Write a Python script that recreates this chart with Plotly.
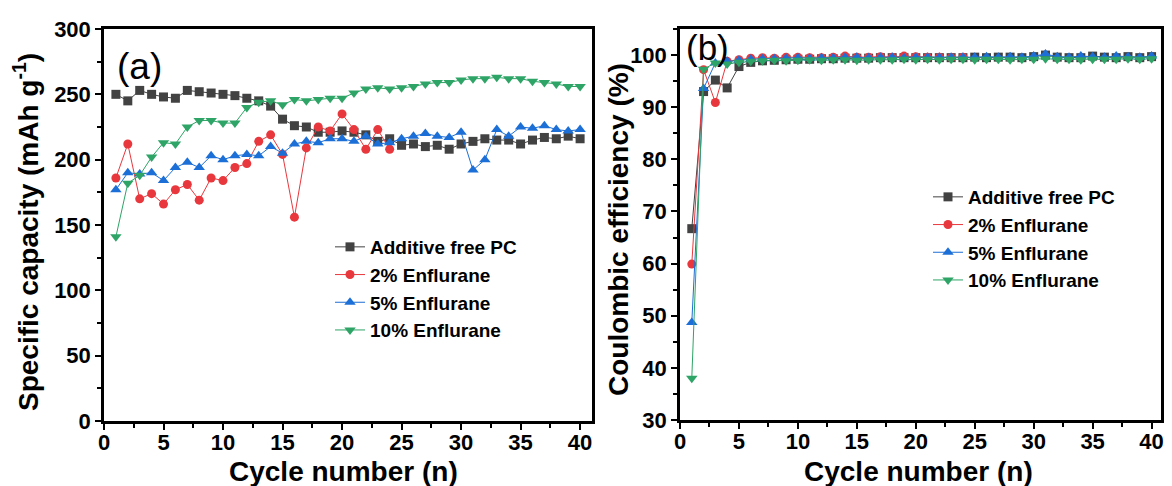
import plotly.graph_objects as go

cycles = list(range(1, 41))

# Panel (a): specific capacity (mAh g-1)
cap_pc = [250, 245, 253, 250, 248, 247, 253, 252, 251, 250, 249, 247, 245, 241, 231, 226, 225, 221, 221, 222,
          221, 219, 214, 216, 211, 212, 210, 211, 208, 212, 214, 216, 215, 215, 212, 215, 217, 216, 218, 216]
cap_2 = [186, 212, 170, 174, 166, 177, 181, 169, 186, 184, 194, 197, 214, 219, 204, 156, 209, 225, 222, 235,
         223, 208, 223, 208]
cap_5 = [177, 190, 189, 190, 184, 194, 198, 194, 203, 200, 203, 204, 203, 210, 205, 212, 214, 213, 216, 216,
         214, 218, 212, 213, 216, 218, 220, 218, 217, 221, 192, 200, 223, 218, 225, 224, 226, 223, 222, 223]
cap_10 = [141, 182, 188, 202, 213, 212, 225, 230, 230, 228, 228, 240, 244, 245, 242, 246, 245, 246, 247, 247,
          251, 254, 255, 254, 255, 256, 258, 259, 259, 261, 262, 262, 263, 262, 262, 260, 259, 258, 256, 256]

# Panel (b): coulombic efficiency (%)
ce_pc = [66.7, 93.0, 95.2, 93.7, 97.8, 98.6, 98.9, 99.0, 99.1, 99.2, 99.2, 99.3, 99.3, 99.4, 99.4, 99.4, 99.5, 99.5, 99.5, 99.5,
         99.5, 99.5, 99.5, 99.5, 99.6, 99.5, 99.6, 99.6, 99.5, 99.7, 100.0, 99.6, 99.5, 99.5, 99.8, 99.6, 99.5, 99.7, 99.5, 99.7]
ce_2 = [59.9, 97.2, 90.9, 98.8, 99.1, 99.4, 99.5, 99.4, 99.6, 99.6, 99.5, 99.5, 99.6, 99.8, 99.6, 99.6, 99.7, 99.6, 99.8, 99.7,
        99.6, 99.6, 99.5, 99.6]
ce_5 = [48.7, 93.6, 98.5, 98.8, 99.0, 99.2, 99.3, 99.3, 99.4, 99.5, 99.4, 99.5, 99.5, 99.6, 99.6, 99.5, 99.6, 99.6, 99.5, 99.6,
        99.6, 99.6, 99.6, 99.6, 99.6, 99.7, 99.6, 99.7, 99.6, 99.8, 100.2, 99.7, 99.6, 99.8, 99.7, 99.6, 99.8, 99.7, 99.6, 99.8]
ce_10 = [38.0, 97.3, 98.5, 98.3, 98.6, 98.8, 98.9, 99.0, 98.9, 99.0, 99.1, 99.0, 99.1, 99.1, 99.0, 99.1, 99.1, 99.1, 99.2, 99.1,
         99.2, 99.1, 99.2, 99.2, 99.1, 99.2, 99.2, 99.1, 99.2, 99.2, 99.3, 99.2, 99.2, 99.1, 99.2, 99.2, 99.2, 99.3, 99.2, 99.3]

names = ["Additive free PC", "2% Enflurane", "5% Enflurane", "10% Enflurane"]
colors = ["#424242", "#e8383d", "#1c6fd6", "#2ea466"]
symbols = ["square", "circle", "triangle-up", "triangle-down"]
sizes = [9, 9, 10, 10]

FONT = "Liberation Sans, Arial"

fig = go.Figure()

for ys, nm, c, s, sz in zip([cap_pc, cap_2, cap_5, cap_10], names, colors, symbols, sizes):
    fig.add_trace(go.Scatter(x=cycles[:len(ys)], y=ys, name=nm, mode="lines+markers",
                             line=dict(color=c, width=1), marker=dict(symbol=s, size=sz, color=c),
                             xaxis="x", yaxis="y", legend="legend"))

for ys, nm, c, s, sz in zip([ce_pc, ce_2, ce_5, ce_10], names, colors, symbols, sizes):
    fig.add_trace(go.Scatter(x=cycles[:len(ys)], y=ys, name=nm, mode="lines+markers",
                             line=dict(color=c, width=1), marker=dict(symbol=s, size=sz, color=c),
                             xaxis="x2", yaxis="y2", legend="legend2"))

W, H = 1172, 486
OFF = 8  # page body margin offset
def px_x(p): return (p - OFF) / W
def px_y(p): return 1 - (p - OFF) / H

tickfont = dict(family=FONT, size=22, color="black", weight="bold")
titlefont = dict(family=FONT, size=28, color="black", weight="bold")
legfont = dict(family=FONT, size=19, color="black", weight="bold")

axis_common = dict(showline=True, linecolor="black", linewidth=2.5, mirror=True, ticks="outside",
                   ticklen=6, tickwidth=2, tickcolor="black", showgrid=False, zeroline=False,
                   tickfont=tickfont, automargin=False)
minor_x = dict(ticks="outside", ticklen=4, tickwidth=1.5, tickcolor="black", dtick=2.5, tick0=0)

fig.update_layout(
    width=W, height=H, margin=dict(l=0, r=0, t=0, b=0, autoexpand=False),
    paper_bgcolor="white", plot_bgcolor="white",
    xaxis=dict(domain=[px_x(104), px_x(592)], range=[0, 41.0], tickvals=list(range(0, 41, 5)),
               minor=minor_x, anchor="y", ticklabelstandoff=-6, **axis_common),
    yaxis=dict(domain=[px_y(421), px_y(29)], range=[0, 300], tickvals=list(range(0, 301, 50)),
               minor=dict(ticks="outside", ticklen=4, tickwidth=1.5, tickcolor="black", dtick=25, tick0=0),
               anchor="x", **axis_common),
    xaxis2=dict(domain=[px_x(680), px_x(1161)], range=[0, 40.8], tickvals=list(range(0, 41, 5)),
                minor=minor_x, anchor="y2", ticklabelstandoff=-6, **axis_common),
    yaxis2=dict(domain=[px_y(420), px_y(29)], range=[30, 105], tickvals=list(range(30, 101, 10)),
                minor=dict(ticks="outside", ticklen=4, tickwidth=1.5, tickcolor="black", dtick=5, tick0=30),
                anchor="x2", **axis_common),
    legend=dict(x=px_x(330), y=px_y(228), xanchor="left", yanchor="top", bgcolor="rgba(0,0,0,0)",
                font=legfont, tracegroupgap=0, itemwidth=30),
    legend2=dict(x=px_x(928), y=px_y(178), xanchor="left", yanchor="top", bgcolor="rgba(0,0,0,0)",
                 font=legfont, tracegroupgap=0, itemwidth=30),
    annotations=[
        dict(text="(a)", x=px_x(139), y=px_y(66), xref="paper", yref="paper", xanchor="center", yanchor="middle",
             showarrow=False, font=dict(family=FONT, size=37, color="black")),
        dict(text="(b)", x=px_x(707), y=px_y(48), xref="paper", yref="paper", xanchor="center", yanchor="middle",
             showarrow=False, font=dict(family=FONT, size=35, color="black")),
        dict(text="Specific capacity (mAh g<sup>-1</sup>)", x=px_x(26), y=px_y(232), xref="paper", yref="paper",
             xanchor="center", yanchor="middle", textangle=-90, showarrow=False, font=titlefont),
        dict(text="Coulombic efficiency (%)", x=px_x(618), y=px_y(230), xref="paper", yref="paper",
             xanchor="center", yanchor="middle", textangle=-90, showarrow=False, font=titlefont),
        dict(text="Cycle number (n)", x=px_x(343), y=px_y(471), xref="paper", yref="paper",
             xanchor="center", yanchor="middle", showarrow=False, font=titlefont),
        dict(text="Cycle number (n)", x=px_x(918), y=px_y(471), xref="paper", yref="paper",
             xanchor="center", yanchor="middle", showarrow=False, font=titlefont),
    ],
)

fig.write_html("out.html")
